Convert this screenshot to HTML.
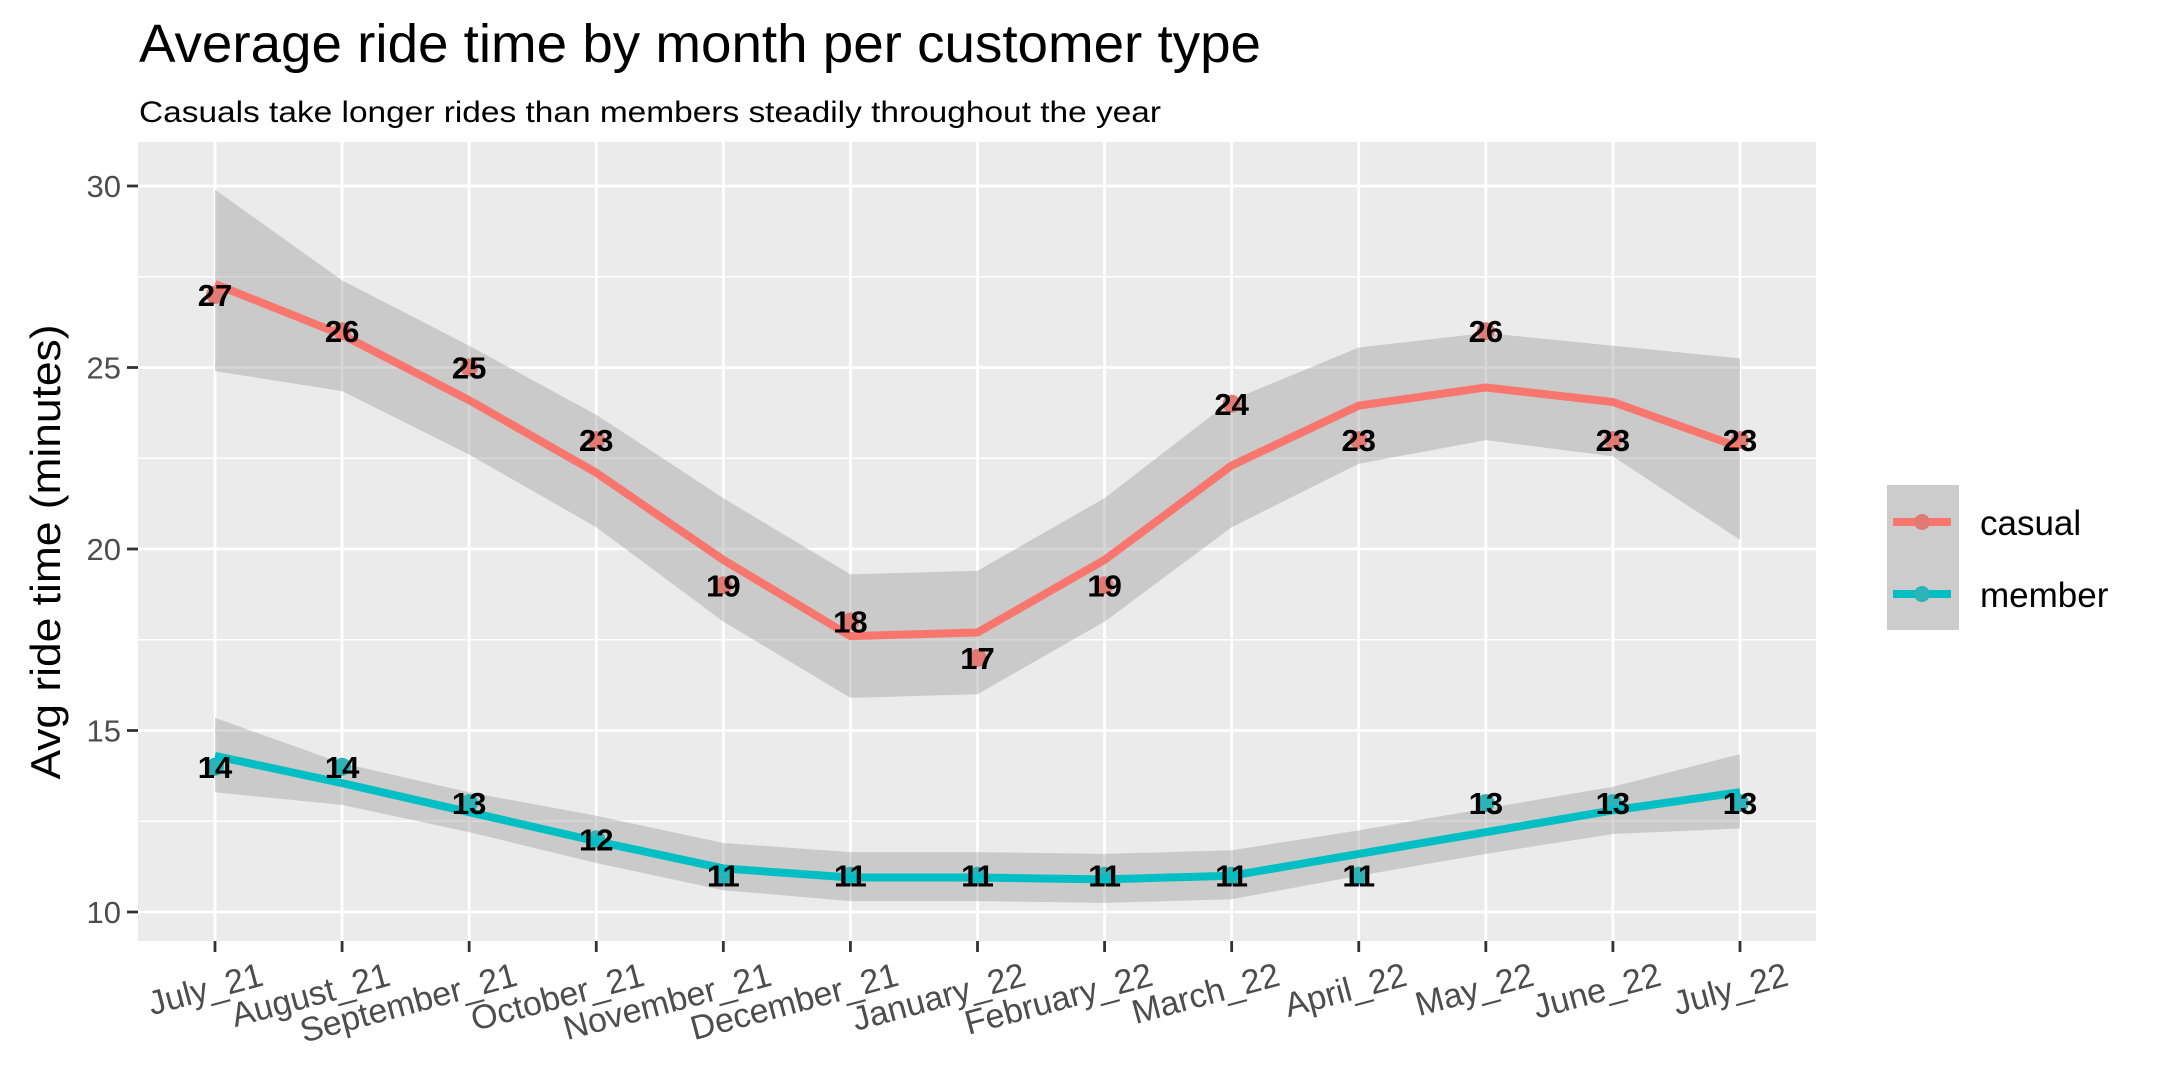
<!DOCTYPE html>
<html><head><meta charset="utf-8">
<style>
html,body{margin:0;padding:0;background:#fff;}
svg{display:block;font-family:"Liberation Sans",Arial,sans-serif;}
</style></head>
<body>
<svg id="chart" width="2160" height="1080" viewBox="0 0 2160 1080" xmlns="http://www.w3.org/2000/svg">
<text x="139" y="62" font-size="54" fill="#000" textLength="1122" lengthAdjust="spacingAndGlyphs">Average ride time by month per customer type</text>
<text x="139" y="122" font-size="30" fill="#000" textLength="1022" lengthAdjust="spacingAndGlyphs">Casuals take longer rides than members steadily throughout the year</text>
<rect x="138" y="142" width="1678" height="799" fill="#ebebeb"/>
<g id="grid"></g>
<g id="ribbons"></g>
<g id="lines"></g>
<g id="labels"></g>
<g id="axes"></g>
<text transform="translate(60,552) rotate(-90)" text-anchor="middle" font-size="42" fill="#000" textLength="455" lengthAdjust="spacingAndGlyphs">Avg ride time (minutes)</text>
<g>
<rect x="1887" y="485" width="72" height="145" fill="#cccccc"/>
<line x1="1893" y1="522" x2="1951" y2="522" stroke="#F8766D" stroke-width="8"/>
<circle cx="1922" cy="522" r="8" fill="#e07a73"/>
<text x="1980" y="535" font-size="35" fill="#000">casual</text>
<line x1="1893" y1="594" x2="1951" y2="594" stroke="#00BFC4" stroke-width="8"/>
<circle cx="1922" cy="594" r="8" fill="#2bb3b7"/>
<text x="1980" y="607" font-size="35" fill="#000">member</text>
</g>
</svg>
<script>
const months = ["July_21","August_21","September_21","October_21","November_21","December_21","January_22","February_22","March_22","April_22","May_22","June_22","July_22"];
const yTicks = [10,15,20,25,30];
const casualPoints = [27,26,25,23,19,18,17,19,24,23,26,23,23];
const casualFit = [27.3,25.9,24.1,22.1,19.7,17.6,17.7,19.7,22.3,23.95,24.45,24.05,22.8];
const casualUpper = [29.9,27.4,25.6,23.7,21.4,19.3,19.4,21.4,24.1,25.55,25.95,25.6,25.25];
const casualLower = [24.9,24.35,22.6,20.6,18.0,15.9,16.0,18.0,20.6,22.35,23.0,22.55,20.25];
const memberPoints = [14,14,13,12,11,11,11,11,11,11,13,13,13];
const memberFit = [14.3,13.55,12.75,11.95,11.2,10.95,10.95,10.9,11.0,11.6,12.2,12.8,13.3];
const memberUpper = [15.35,14.1,13.3,12.65,11.9,11.65,11.65,11.6,11.7,12.25,12.85,13.45,14.35];
const memberLower = [13.3,12.95,12.2,11.35,10.6,10.3,10.3,10.25,10.35,11.0,11.6,12.15,12.3];

const NS="http://www.w3.org/2000/svg";
const PX0=138,PX1=1816,PY0=142,PY1=941;
function xs(i){return 215+i*(1740-215)/(months.length-1);}
function ys(v){return 912-(v-10)*(912-186)/20;}
function mk(tag,attrs,parent){const e=document.createElementNS(NS,tag);for(const k in attrs)e.setAttribute(k,attrs[k]);parent.appendChild(e);return e;}
const grid=document.getElementById('grid'),rib=document.getElementById('ribbons'),lines=document.getElementById('lines'),labs=document.getElementById('labels'),axes=document.getElementById('axes');

for(let k=0;k<yTicks.length-1;k++){
  const v=(yTicks[k]+yTicks[k+1])/2;
  const l=mk('line',{x1:PX0,x2:PX1,y1:ys(v),y2:ys(v),stroke:'#fff','stroke-width':1.4},grid);
  
  
}
yTicks.forEach(v=>{
  const l=mk('line',{x1:PX0,x2:PX1,y1:ys(v),y2:ys(v),stroke:'#fff','stroke-width':2.8},grid);
  
  
  const t=mk('line',{x1:127,x2:138,y1:ys(v),y2:ys(v),stroke:'#333','stroke-width':2.8},axes);
  
  
  const tx=mk('text',{x:121,y:ys(v)+11,'text-anchor':'end','font-size':31,fill:'#4d4d4d'},axes);
  tx.textContent=v;
  
  
});
months.forEach((m,i)=>{
  const l=mk('line',{x1:xs(i),x2:xs(i),y1:PY0,y2:PY1,stroke:'#fff','stroke-width':2.8},grid);
  
  
  const t=mk('line',{x1:xs(i),x2:xs(i),y1:PY1,y2:PY1+11,stroke:'#333','stroke-width':2.8},axes);
  
  
  const tx=mk('text',{transform:`translate(${xs(i)+50},${PY1+44}) rotate(-15)`,'text-anchor':'end','font-size':34,fill:'#4d4d4d'},axes);
  tx.textContent=m;
  
  
});

function series(name,pts,fit,up,lo,color,ptColor){
  let d='M'+up.map((v,i)=>xs(i)+','+ys(v)).join(' L');
  for(let i=lo.length-1;i>=0;i--)d+=' L'+xs(i)+','+ys(lo[i]);
  const r=mk('path',{d:d+'Z',fill:'#999','fill-opacity':0.4},rib);
  
  
  pts.forEach((v,i)=>{
    const c=mk('circle',{cx:xs(i),cy:ys(v),r:9,fill:ptColor},lines);
    
    
  });
  const p=mk('polyline',{points:fit.map((v,i)=>xs(i)+','+ys(v)).join(' '),fill:'none',stroke:color,'stroke-width':8,'stroke-linejoin':'round'},lines);
  
  
  pts.forEach((v,i)=>{
    const t=mk('text',{x:xs(i),y:ys(v)+11,'text-anchor':'middle','font-size':31,'font-weight':'bold',fill:'#000'},labs);
    t.textContent=Math.round(v);
    
    
  });
}
series('casual',casualPoints,casualFit,casualUpper,casualLower,'#F8766D','#e07a73');
series('member',memberPoints,memberFit,memberUpper,memberLower,'#00BFC4','#2bb3b7');
</script>
</body></html>
